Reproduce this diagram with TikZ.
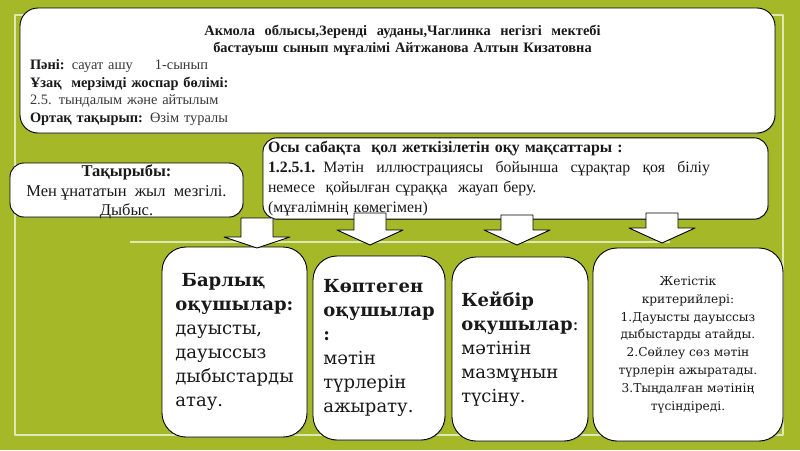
\documentclass[tikz,border=0pt]{standalone}
\usepackage{fontspec}
\setmainfont{Liberation Serif}
\newfontfamily\bookfont{DejaVu Serif}
\usetikzlibrary{shadows}
\definecolor{slidegreen}{RGB}{165,184,40}
\definecolor{framegreen}{RGB}{222,232,178}
\definecolor{inktext}{RGB}{25,25,25}
\definecolor{softtext}{RGB}{55,55,55}

\begin{document}
\begin{tikzpicture}[x=1pt,y=-1pt,line join=round,
    card/.style={draw=black,line width=0.9pt,fill=white,rounded corners=14pt,
      drop shadow={shadow xshift=1pt,shadow yshift=-1pt,opacity=0.4}},
    tallcard/.style={card,rounded corners=24pt,inner sep=0pt,text=inktext,
      font=\bookfont\fontsize{18}{24}\selectfont},
    blockarrow/.style={draw=black,fill=white,line width=0.9pt}]
  \fill[slidegreen] (0,0) rectangle (800,450);
  \useasboundingbox (0,0) rectangle (800,450);
  \draw[framegreen,line width=1.1pt] (15,15) rectangle (783,435);
  \draw[framegreen,line width=1.1pt] (130,242) -- (670,242);
  \node[card,rounded corners=18pt,minimum width=755pt,minimum height=125pt] (head) at (397.5,70.5) {};
  \node[text width=745pt,inner sep=0pt,align=left,text=inktext,
    font=\fontsize{14.4}{17.4}\selectfont] (headtext) at (402.5,75) {%
    \makebox[\hsize]{\bfseries Акмола\ \ облысы,Зеренді\ \ ауданы,Чаглинка\ \ негізгі\ \ мектебі}\\
    \makebox[\hsize]{\bfseries бастауыш сынып мұғалімі Айтжанова Алтын Кизатовна}\\
    \textbf{Пәні:} {\color{softtext}сауат ашу\hspace{22pt}1-сынып}\\
    \textbf{Ұзақ\ \ мерзімді жоспар бөлімі:}\\
    {\color{softtext}2.5. тындалым және айтылым}\\
    \textbf{Ортақ тақырып:} {\color{softtext}Өзім туралы}};
  \node[card,minimum width=233pt,minimum height=54pt] (topic) at (126.5,190) {};
  \node[align=center,text=inktext,font=\fontsize{16.5}{19.5}\selectfont] (topictext) at (126.5,192) {%
    \textbf{Тақырыбы:}\\ Мен ұнататын\ \ жыл\ \ мезгілі.\\ Дыбыс.};
  \node[card,minimum width=505pt,minimum height=79pt,text width=495pt,inner xsep=5pt,
    align=left,text=inktext,font=\fontsize{15.8}{20}\selectfont] (aims) at (515.5,178.5) {%
    \textbf{Осы сабақта\ \ қол жеткізілетін оқу мақсаттары :}\\
    \makebox[442pt][l]{\textbf{1.2.5.1.} Мәтін\hfill иллюстрациясы\hfill бойынша\hfill сұрақтар\hfill қоя\hfill біліу}\\
    немесе\ \ қойылған сұраққа\ \ жауап беру.\\
    (мұғалімнің көмегімен)};
  \node[tallcard,minimum width=145pt,minimum height=190pt,align=left] (allpupils) at (234.5,342) {%
    \textbf{\ Барлық}\\ \textbf{оқушылар:}\\ дауысты,\\ дауыссыз\\ дыбыстарды\\ атау.};
  \node[tallcard,minimum width=132pt,minimum height=184pt,align=left] (manypupils) at (379,348) {%
    \textbf{Көптеген}\\ \textbf{оқушылар}\\ \textbf{:}\\ мәтін\\ түрлерін\\ ажырату.};
  \node[tallcard,minimum width=136pt,minimum height=184pt,align=left] (somepupils) at (520,349) {%
    \textbf{Кейбір}\\ \textbf{оқушылар}:\\ мәтінін\\ мазмұнын\\ түсіну.};
  \node[tallcard,minimum width=190pt,minimum height=193pt,align=center,text=inktext,
    font=\bookfont\fontsize{12.2}{17.8}\selectfont] (criteria) at (688,344.5) {%
    Жетістік\\ критерийлері:\\ 1.Дауысты дауыссыз\\ дыбыстарды атайды.\\
    2.Сөйлеу сөз мәтін\\ түрлерін ажыратады.\\ 3.Тыңдалған мәтінің\\ түсіндіреді.};
  \foreach \ax/\at/\ah/\ab in {257/218/237/248,370/213/230/245,517/215/230/245,662/213/228/243}
    \draw[blockarrow] (\ax-16,\at) -- (\ax+16,\at) -- (\ax+16,\ah) -- (\ax+33,\ah)
      -- (\ax,\ab) -- (\ax-33,\ah) -- (\ax-16,\ah) -- cycle;
\end{tikzpicture}
\end{document}
